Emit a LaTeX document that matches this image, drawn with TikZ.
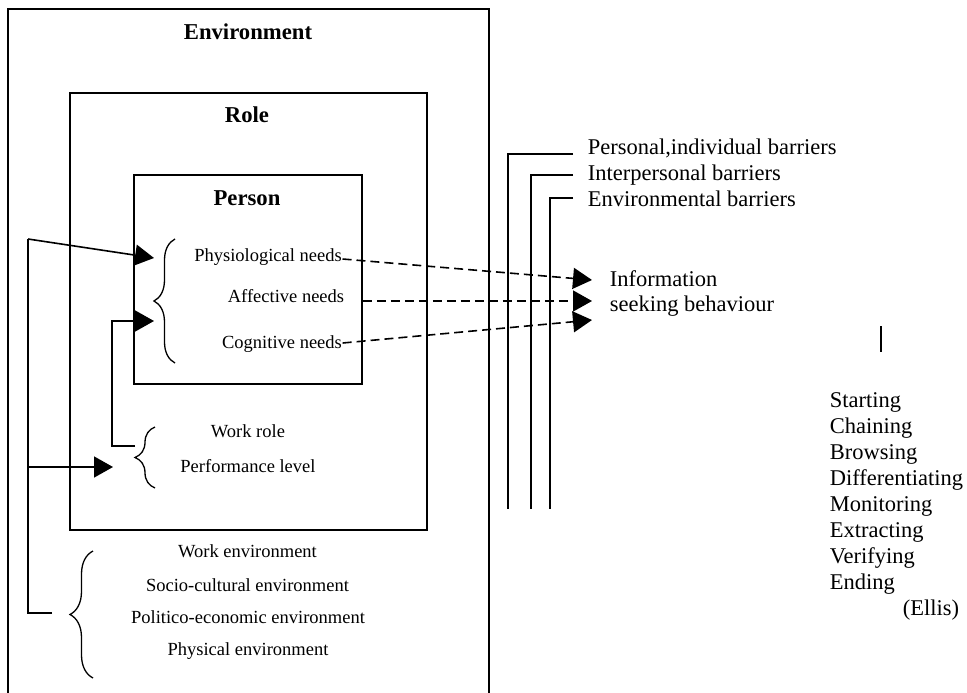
\documentclass[tikz,border=0pt]{standalone}
\usepackage{fontspec}
\setmainfont{Liberation Serif}
\usetikzlibrary{arrows.meta,decorations.pathreplacing}
\begin{document}
\begin{tikzpicture}[x=1pt,y=-1pt,line width=1.6pt,
  small/.style={inner sep=0pt,anchor=base,font=\fontsize{18.5}{22}\selectfont},
  big/.style={inner sep=0pt,anchor=base west,font=\fontsize{22.5}{27}\selectfont},
  head/.style={inner sep=0pt,anchor=base,font=\fontsize{22.7}{27}\selectfont\bfseries},
  box/.style={draw,inner sep=0pt},
  tip/.style={-{Triangle[length=19pt,width=21pt]}},
  dsh/.style={tip,dash pattern=on 9pt off 5pt},
  brc/.style={decorate,decoration={brace,amplitude=#1}}]
\useasboundingbox (0,0) rectangle (967,693);
% boxes
\draw (8,700) -- (8,9) -- (489,9) -- (489,700);
\node[box,minimum width=357pt,minimum height=437pt] (rolebox) at (248.5,311.5) {};
\node[box,minimum width=228pt,minimum height=209pt] (personbox) at (248,279.5) {};
% headings
\node[head] (env) at (248,40) {Environment};
\node[head] (role) at (247,122) {Role};
\node[head] (person) at (247,205) {Person};
% needs
\node[small] (phys) at (268,261) {Physiological needs};
\node[small] (aff) at (286,302) {Affective needs};
\node[small] (cog) at (282,348) {Cognitive needs};
\draw[line width=1.3pt,brc=21pt] (175,363) -- (175,239);
% role
\node[small] (work) at (248,437) {Work role};
\node[small] (perf) at (248,472) {Performance level};
\draw[line width=1.3pt,brc=20pt] (155,488) -- (155,427);
% environment
\node[small] (wenv) at (247.5,557) {Work environment};
\node[small] (senv) at (247.5,591) {Socio-cultural environment};
\node[small] (penv) at (248,623) {Politico-economic environment};
\node[small] (phenv) at (248,655) {Physical environment};
\draw[line width=1.3pt,brc=23pt] (93,678) -- (93,551);
% left connectors
\coordinate (a1) at (28,239);
\coordinate (a2) at (28,613);
\coordinate (a3) at (52,613);
\coordinate (a4) at (28,467);
\coordinate (physin) at (154,258);
\coordinate (perfin) at (113,467);
\draw (a3) -- (a2) -- (a1);
\draw[tip] (a1) -- (physin);
\draw[tip] (a4) -- (perfin);
\coordinate (b1) at (135,446);
\coordinate (b2) at (112,446);
\coordinate (b3) at (112,321);
\coordinate (cogin) at (154,321);
\draw[tip] (b1) -- (b2) -- (b3) -- (cogin);
% information seeking
\node[big] (info1) at (609,286) {Information};
\node[big] (info2) at (609,311) {seeking behaviour};
\coordinate (t1) at (592,280);
\coordinate (t2) at (592,301);
\coordinate (t3) at (592,320);
\draw[dsh] ([yshift=2pt]phys.base east) -- (t1);
\draw[dsh] (personbox.east |- t2) -- (t2);
\draw[dsh] ([yshift=5pt]cog.base east) -- (t3);
% barriers
\node[big] (bar1) at (587,154) {Personal,individual barriers};
\node[big] (bar2) at (587,180) {Interpersonal barriers};
\node[big] (bar3) at (587,206) {Environmental barriers};
\draw (573,154) -- (508,154) -- (508,509);
\draw (573,175) -- (531,175) -- (531,509);
\draw (573,198) -- (550,198) -- (550,509);
% Ellis
\coordinate (v1) at (881,326);
\coordinate (v2) at (881,352);
\draw (v1) -- (v2);
\node[big] (s1) at (829,407) {Starting};
\node[big] (s2) at (829,433) {Chaining};
\node[big] (s3) at (829,459) {Browsing};
\node[big] (s4) at (829,485) {Differentiating};
\node[big] (s5) at (829,511) {Monitoring};
\node[big] (s6) at (829,537) {Extracting};
\node[big] (s7) at (829,563) {Verifying};
\node[big] (s8) at (829,589) {Ending};
\node[big] (s9) at (902,615) {(Ellis)};
\end{tikzpicture}
\end{document}
